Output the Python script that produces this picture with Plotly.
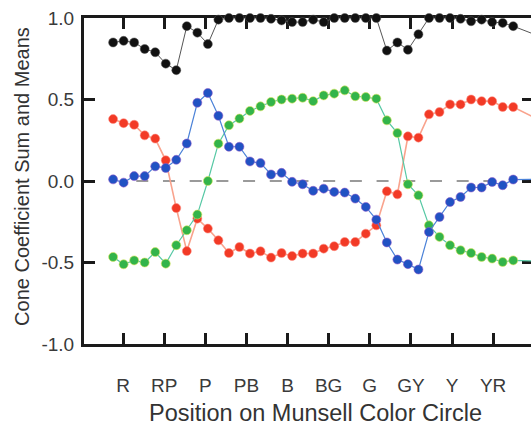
import plotly.graph_objects as go

# ---- data ----
hue_step = [0, 1, 2, 3, 4, 5, 6, 7, 8, 9, 10, 11, 12, 13, 14, 15, 16, 17, 18, 19,
            20, 21, 22, 23, 24, 25, 26, 27, 28, 29, 30, 31, 32, 33, 34, 35, 36, 37, 38, 40]

cone_sum = [0.85, 0.86, 0.85, 0.81, 0.79, 0.72, 0.68, 0.95, 0.91, 0.84,
            0.99, 1.00, 1.00, 1.00, 1.00, 0.995, 0.985, 0.975, 0.975, 0.99,
            0.975, 1.00, 1.00, 1.00, 1.00, 1.00, 0.80, 0.85, 0.805, 0.90,
            1.00, 1.00, 1.00, 0.995, 0.98, 0.99, 0.975, 0.97, 0.95, 0.90]

red_mean = [0.38, 0.355, 0.345, 0.28, 0.26, 0.127, -0.166, -0.43, -0.231, -0.292,
            -0.364, -0.442, -0.405, -0.445, -0.431, -0.47, -0.442, -0.46, -0.445, -0.445,
            -0.415, -0.40, -0.374, -0.374, -0.323, -0.272, -0.063, -0.082, 0.274, 0.266,
            0.409, 0.423, 0.47, 0.47, 0.50, 0.49, 0.49, 0.454, 0.454, 0.39]

blue_mean = [0.01, -0.01, 0.03, 0.03, 0.09, 0.08, 0.13, 0.23, 0.48, 0.54,
             0.40, 0.21, 0.21, 0.12, 0.11, 0.04, 0.05, -0.005, -0.02, -0.06,
             -0.047, -0.067, -0.071, -0.108, -0.159, -0.237, -0.377, -0.482, -0.51, -0.543,
             -0.313, -0.221, -0.129, -0.098, -0.04, -0.04, -0.006, -0.026, 0.009, 0.01]

green_mean = [-0.466, -0.511, -0.487, -0.50, -0.436, -0.507, -0.394, -0.302, -0.206, 0.0,
              0.229, 0.342, 0.383, 0.43, 0.458, 0.485, 0.50, 0.505, 0.511, 0.49,
              0.525, 0.536, 0.556, 0.52, 0.515, 0.505, 0.372, 0.294, -0.02, -0.088,
              -0.272, -0.343, -0.394, -0.425, -0.442, -0.466, -0.476, -0.497, -0.487, -0.49]

hue_labels = ["R", "RP", "P", "PB", "B", "BG", "G", "GY", "Y", "YR"]
y_ticks = [-1.0, -0.5, 0.0, 0.5, 1.0]
y_tick_text = ["-1.0", "-0.5", "0.0", "0.5", "1.0"]

tick_pos = [0.94 + 3.906 * k for k in range(len(hue_labels))]

FONT = "Liberation Sans, Arial, Helvetica, sans-serif"

fig = go.Figure()

fig.add_shape(type="line", xref="x", yref="y", x0=2.2, x1=37.5, y0=0, y1=0,
              line=dict(color="#9a9a9a", width=2, dash="12px,14.7px"), layer="below")

series = [
    (cone_sum, "#111111", "#555555", 1.0, "rgba(90,90,90,0.5)"),
    (red_mean, "#f23a26", "#f9a38d", 1.6, "rgba(255,140,130,0.55)"),
    (green_mean, "#33b44a", "#56c8a4", 1.2, "rgba(220,230,90,0.6)"),
    (blue_mean, "#2152c3", "#4b82d8", 1.2, "rgba(150,90,200,0.55)"),
]
for vals, mcol, lcol, lw, halo in series:
    fig.add_trace(go.Scatter(
        x=hue_step, y=vals, mode="lines+markers",
        line=dict(color=lcol, width=lw),
        marker=dict(color=mcol, size=9, line=dict(color=halo, width=1)),
        cliponaxis=False, showlegend=False, hoverinfo="skip"))

axis_common = dict(showline=True, linecolor="#1a1a1a", linewidth=3, mirror="ticks",
                   ticks="inside", ticklen=11, tickwidth=3, tickcolor="#1a1a1a",
                   showgrid=False, zeroline=False, layer="below traces",
                   tickfont=dict(family=FONT, size=19, color="#3a3a3a"))

fig.update_xaxes(range=[-2.764, 39.88], tickmode="array", tickvals=tick_pos,
                 ticktext=hue_labels, ticklabelstandoff=22, **axis_common)
fig.update_yaxes(range=[-1.0, 1.0], tickmode="array", tickvals=y_ticks,
                 ticktext=y_tick_text, ticklabelstandoff=3, **axis_common)

fig.add_annotation(text="Position on Munsell Color Circle", xref="paper", yref="paper",
                   x=0.5146, y=-0.212, xanchor="center", yanchor="middle", showarrow=False,
                   font=dict(family=FONT, size=23.5, color="#333333"))
fig.add_annotation(text="Cone Coefficient Sum and Means", xref="paper", yref="paper",
                   x=-0.137, y=0.514, xanchor="center", yanchor="middle", showarrow=False,
                   textangle=-90, font=dict(family=FONT, size=20, color="#333333"))

fig.update_layout(width=536, height=428, margin=dict(l=84, r=0, t=18, b=84),
                  plot_bgcolor="white", paper_bgcolor="white")

fig.write_html("out.html", config={"displayModeBar": False, "responsive": False},
               post_script="document.body.style.margin='0';document.body.style.overflow='hidden';")
